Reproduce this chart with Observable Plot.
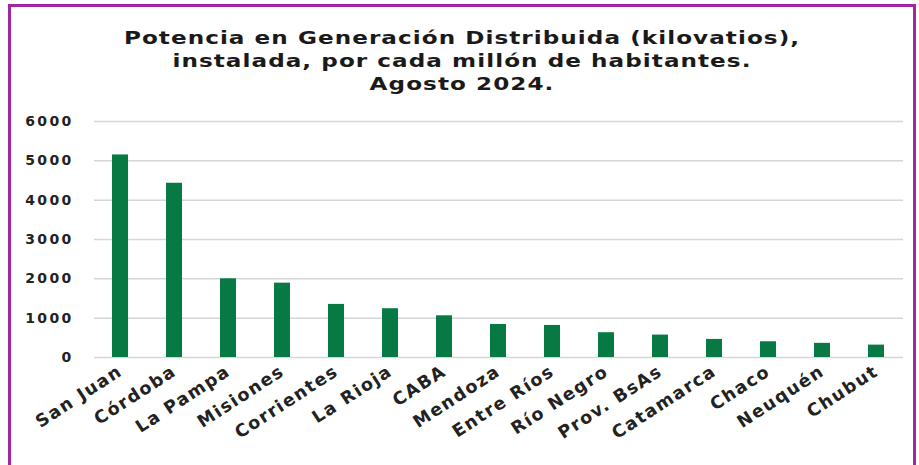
<!DOCTYPE html>
<html>
<head>
<meta charset="utf-8">
<script src="https://cdn.jsdelivr.net/npm/d3@7"></script>
<script src="https://cdn.jsdelivr.net/npm/@observablehq/plot@0.6"></script>
<style>
  html, body { margin: 0; padding: 0; background: #fff; width: 919px; height: 465px; overflow: hidden; }
  #frame { position: absolute; left: 8px; top: 4px; width: 908px; height: 520px; border: 3px solid #a0289f; box-sizing: border-box; }
  #title { position: absolute; left: 0; top: 27px; width: 924px; text-align: center;
    font-family: "DejaVu Sans", sans-serif; font-weight: bold; font-size: 17.5px; line-height: 23px; color: #1a1a1a;
    letter-spacing: 0.8px; transform: scaleX(1.32); transform-origin: 462px 0; }
  #chart { position: absolute; left: 0; top: 100px; }
  #chart svg { font-family: "DejaVu Sans", sans-serif; font-weight: bold; }
  .yax text { letter-spacing: 2.3px; }
  .xax text { letter-spacing: 1.6px; }
</style>
</head>
<body>
<div id="frame"></div>
<div id="title">Potencia en Generación Distribuida (kilovatios),<br>instalada, por cada millón de habitantes.<br>Agosto 2024.</div>
<div id="chart"></div>
<script>
const provinces = ["San Juan", "Córdoba", "La Pampa", "Misiones", "Corrientes", "La Rioja", "CABA", "Mendoza", "Entre Ríos", "Río Negro", "Prov. BsAs", "Catamarca", "Chaco", "Neuquén", "Chubut"];
const kwPerMillion = [5150, 4430, 2000, 1890, 1350, 1240, 1060, 840, 815, 630, 570, 460, 400, 360, 315];
const yTicks = [0, 1000, 2000, 3000, 4000, 5000, 6000];

const data = provinces.map((p, i) => ({province: p, value: kwPerMillion[i]}));

const chart = Plot.plot({
  width: 919,
  height: 365,
  marginLeft: 94,
  marginRight: 16,
  marginTop: 21,
  marginBottom: 108,
  style: {fontFamily: "DejaVu Sans, sans-serif", fontWeight: "bold", color: "#222"},
  x: {domain: provinces, paddingInner: 0.7, paddingOuter: 0.34, label: null},
  y: {domain: [0, 6000], ticks: yTicks, label: null},
  marks: [
    Plot.ruleY(yTicks, {stroke: "#d6d6d6", strokeWidth: 1.5}),
    Plot.barY(data, {x: "province", y: "value", fill: "#067a42"}),
    Plot.axisY({ticks: yTicks, tickSize: 0, tickPadding: 21, fontSize: 14, fontWeight: "bold", label: null, tickFormat: d => String(d), className: "yax"}),
    Plot.axisX({tickSize: 0, tickRotate: -33, tickPadding: 12, fontSize: 17.5, fontWeight: "bold", label: null, textAnchor: "end", className: "xax"})
  ]
});
document.getElementById("chart").appendChild(chart);
</script>
</body>
</html>
